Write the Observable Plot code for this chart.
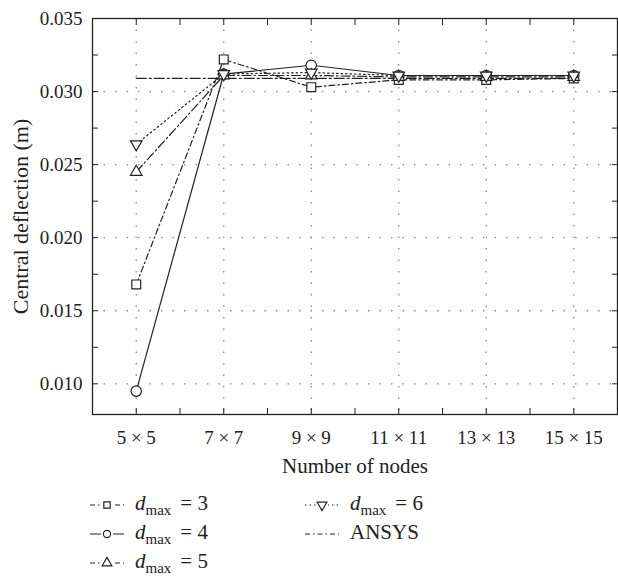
<!DOCTYPE html>
<html><head><meta charset="utf-8">
<script src="https://cdn.jsdelivr.net/npm/d3@7"></script>
<script src="https://cdn.jsdelivr.net/npm/@observablehq/plot@0.6"></script>
<style>
body{margin:0;background:#fff;font-family:"Liberation Serif","Times New Roman",serif;color:#222;}
#wrap{position:relative;width:618px;height:576px;overflow:hidden;}
#chart svg{display:block;}
.leg{position:absolute;display:flex;align-items:center;font-size:21px;white-space:nowrap;}
.leg svg{display:block;margin-right:9px;}
.leg sub{font-size:15px;vertical-align:-5px;line-height:0;}
.leg .eq{margin-left:9px;}
</style></head><body>
<div id="wrap"><div id="chart"></div><div id="legend"></div></div>
<script>
// ---- data ----
const nodes = [5, 7, 9, 11, 13, 15];
const nodeLabels = ["5 × 5", "7 × 7", "9 × 9", "11 × 11", "13 × 13", "15 × 15"];
const dmax3 = [0.0168, 0.0322, 0.0303, 0.0308, 0.0308, 0.0309];
const dmax4 = [0.0095, 0.0312, 0.0318, 0.0311, 0.0311, 0.0311];
const dmax5 = [0.0245, 0.0311, 0.0311, 0.0310, 0.0310, 0.0310];
const dmax6 = [0.0264, 0.0312, 0.0313, 0.0311, 0.0311, 0.0311];
const ansys = [0.0309, 0.0309, 0.0309, 0.0309, 0.0309, 0.0309];
const yMajor = [0.010, 0.015, 0.020, 0.025, 0.030, 0.035];
const yMinor = [0.0125, 0.0175, 0.0225, 0.0275, 0.0325];
const yGrid = [0.010, 0.015, 0.020, 0.025, 0.030];
const xMinor = [6, 8, 10, 12, 14];
const seriesNames = ["dmax = 3", "dmax = 4", "dmax = 5", "dmax = 6", "ANSYS"];
const xTitle = ["Number of nodes"];
const yTitle = ["Central deflection (m)"];

// ---- styles ----
const ink = "#222";
const styles = [
  {name: seriesNames[0], values: dmax3, dash: "6,3,1.5,3", legDash: "5,3,1.5,3", symbol: "square", r: 5.0, rotate: 0, label: ["d", "max", "= 3"]},
  {name: seriesNames[1], values: dmax4, dash: null, legDash: null, symbol: "circle", r: 5.2, rotate: 0, label: ["d", "max", "= 4"]},
  {name: seriesNames[2], values: dmax5, dash: "9,3,1.5,3", legDash: "5,3,1.5,3", symbol: "triangle", r: 4.3, rotate: 0, label: ["d", "max", "= 5"]},
  {name: seriesNames[3], values: dmax6, dash: "1.5,3", legDash: "1.5,3", symbol: "triangle", r: 4.3, rotate: 180, label: ["d", "max", "= 6"]},
  {name: seriesNames[4], values: ansys, dash: "10,3,2,3", legDash: "5,3,1.5,3", symbol: null, label: ["", "", "ANSYS"]}
];
const rows = s => nodes.map((n, i) => ({n, v: s.values[i]}));

const marks = [
  Plot.gridX(nodes, {stroke: "#888", strokeOpacity: 1, strokeWidth: 1.3, strokeDasharray: "1.5,10"}),
  Plot.gridY(yGrid, {stroke: "#888", strokeOpacity: 1, strokeWidth: 1.3, strokeDasharray: "1.5,10"}),
  // ticks (inward)
  Plot.axisY(yMajor.concat(yMinor), {anchor: "left", tickSize: -6, tickFormat: () => "", label: null, stroke: ink}),
  Plot.axisY(yMajor.concat(yMinor), {anchor: "right", tickSize: -6, tickFormat: () => "", label: null, stroke: ink}),
  Plot.axisX(nodes.concat(xMinor), {anchor: "bottom", tickSize: -6, tickFormat: () => "", label: null, stroke: ink}),
  Plot.axisX(nodes.concat(xMinor), {anchor: "top", tickSize: -6, tickFormat: () => "", label: null, stroke: ink}),
  // tick labels
  Plot.axisY(yMajor, {anchor: "left", tickSize: 0, tickPadding: 10, tickFormat: d3.format(".3f"), label: null, fontSize: 19}),
  Plot.axisX(nodes, {anchor: "bottom", tickSize: 0, tickPadding: 16, tickFormat: d => nodeLabels[nodes.indexOf(d)], label: null, fontSize: 19}),
  // axis titles
  Plot.text(yTitle, {text: d => d, frameAnchor: "left", textAnchor: "middle", lineAnchor: "middle", rotate: -90, dx: -72, fontSize: 22, fill: ink}),
  Plot.text(xTitle, {text: d => d, frameAnchor: "bottom", lineAnchor: "middle", dy: 52, fontSize: 21, fill: ink}),
];
for (const s of styles) {
  marks.push(Plot.line(rows(s), {x: "n", y: "v", stroke: ink, strokeWidth: 1.2, strokeDasharray: s.dash || undefined}));
}
for (const s of styles) {
  if (!s.symbol) continue;
  marks.push(Plot.dot(rows(s), {x: "n", y: "v", symbol: s.symbol, r: s.r, rotate: s.rotate, fill: "white", stroke: ink, strokeWidth: 1.2}));
}
marks.push(Plot.frame({stroke: ink, strokeWidth: 1.3}));

const chart = Plot.plot({
  width: 618, height: 480,
  marginTop: 18, marginBottom: 66, marginLeft: 92, marginRight: 1,
  x: {type: "linear", domain: [4, 16], range: [92, 617]},
  y: {domain: [0.0079, 0.035]},
  style: {fontFamily: "'Liberation Serif', serif", fontSize: "19px", color: ink, background: "#fff", overflow: "visible"},
  marks
});
document.getElementById("chart").appendChild(chart);

// ---- legend ----
const legPos = [
  {x: 88, y: 491}, {x: 88, y: 520}, {x: 88, y: 549},
  {x: 303, y: 491}, {x: 303, y: 520}
];
const legend = d3.select("#legend");
styles.forEach((s, i) => {
  const div = legend.append("div").attr("class", "leg").style("left", legPos[i].x + "px").style("top", legPos[i].y + "px");
  const sw = div.append("svg").attr("width", 38).attr("height", 22);
  sw.append("line").attr("x1", 2).attr("x2", 36).attr("y1", 12).attr("y2", 12)
    .attr("stroke", ink).attr("stroke-width", 1.2).attr("stroke-dasharray", s.legDash);
  if (s.symbol) {
    const sym = s.symbol === "square" ? d3.symbolSquare : s.symbol === "circle" ? d3.symbolCircle : d3.symbolTriangle;
    sw.append("rect").attr("x", 13).attr("y", 5).attr("width", 12).attr("height", 14).attr("fill", "white");
    sw.append("path").attr("d", d3.symbol(sym, Math.PI * 3.6 * 3.6)())
      .attr("transform", `translate(19,12) rotate(${s.rotate})`)
      .attr("fill", "white").attr("stroke", ink).attr("stroke-width", 1.2);
  }
  const t = div.append("span");
  if (s.label[0]) {
    t.html(`<i>${s.label[0]}</i><sub>${s.label[1]}</sub><span class="eq">${s.label[2]}</span>`);
  } else {
    t.text(s.label[2]);
  }
});
</script>
</body></html>
